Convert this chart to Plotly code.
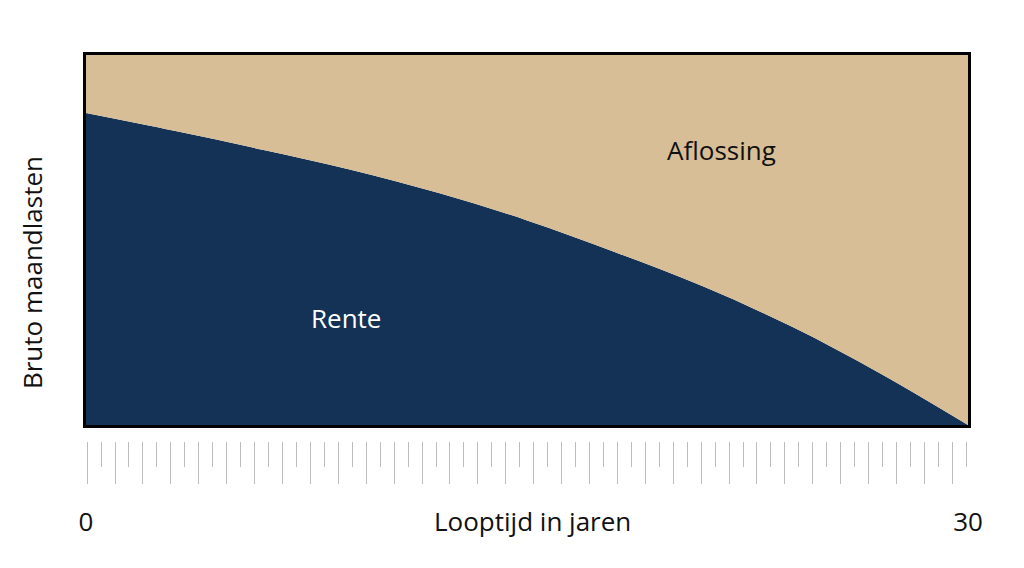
import plotly.graph_objects as go

# looptijd in jaren en aandeel rente in de bruto maandlast (totaal = 1)
jaren = [0, 3, 6, 9, 12, 15, 18, 21, 24, 27, 30]
rente = [0.843, 0.795, 0.744, 0.690, 0.627, 0.553, 0.467, 0.374, 0.266, 0.140, 0.0]
totaal = [1.0] * len(jaren)
aflossing = [t - r for t, r in zip(totaal, rente)]

navy = '#133256'
tan = '#D8BE96'
font = 'Open Sans'
tekst = '#111111'

fig = go.Figure()
fig.add_trace(go.Scatter(
    x=jaren, y=rente, stackgroup='last', mode='lines',
    line=dict(width=0, shape='spline', smoothing=1, color=navy), fillcolor=navy,
    name='Rente', hoverinfo='skip',
))
fig.add_trace(go.Scatter(
    x=jaren, y=aflossing, stackgroup='last', mode='lines',
    line=dict(width=0, shape='spline', smoothing=1, color=tan), fillcolor=tan,
    name='Aflossing', hoverinfo='skip',
))
# onzichtbare trace zodat de liniaal-as getekend wordt
fig.add_trace(go.Scatter(
    x=[0], y=[0], xaxis='x2', mode='markers', opacity=0,
    showlegend=False, hoverinfo='skip',
))

fig.update_layout(
    width=1024, height=568,
    # body heeft 8px marge, daarom links/boven 8px minder
    margin=dict(l=78, r=64, t=47, b=48),
    paper_bgcolor='white', plot_bgcolor='white',
    showlegend=False,
    font=dict(family=font, size=26, color=tekst),
    xaxis=dict(
        range=[0, 30], showgrid=False, zeroline=False,
        showline=True, linecolor='black', linewidth=3, mirror=True,
        tickvals=[0, 30], ticktext=['0', '30'], ticks='',
        ticklabelstandoff=72, tickfont=dict(size=26, color=tekst),
    ),
    yaxis=dict(
        range=[0, 1], domain=[0.2178, 1], showgrid=False, zeroline=False,
        showline=True, linecolor='black', linewidth=3, mirror=True,
        showticklabels=False, ticks='',
    ),
    xaxis2=dict(
        range=[-0.04, 31.56], anchor='free', position=0.1839,
        overlaying='x', side='bottom', showgrid=False, zeroline=False,
        showline=False, showticklabels=False,
        ticks='outside', tick0=0, dtick=1, ticklen=42, tickwidth=1,
        tickcolor='#bdbdbd',
        minor=dict(ticks='outside', dtick=0.5, ticklen=25, tickwidth=1,
                   tickcolor='#bdbdbd', showgrid=False),
    ),
    annotations=[
        dict(text='Aflossing', x=0.72, y=0.799, xref='paper', yref='paper',
             xanchor='center', yanchor='middle', showarrow=False,
             font=dict(size=26, color=tekst)),
        dict(text='Rente', x=0.2948, y=0.444, xref='paper', yref='paper',
             xanchor='center', yanchor='middle', showarrow=False,
             font=dict(size=26, color='white')),
        dict(text='Looptijd in jaren', x=0.5057, y=0.0148, xref='paper', yref='paper',
             xanchor='center', yanchor='middle', showarrow=False,
             font=dict(size=26, color=tekst)),
        dict(text='Bruto maandlasten', x=-0.0612, y=0.539, xref='paper', yref='paper',
             xanchor='center', yanchor='middle', showarrow=False, textangle=-90,
             font=dict(size=26, color=tekst)),
    ],
)

fig.write_html('out.html')
